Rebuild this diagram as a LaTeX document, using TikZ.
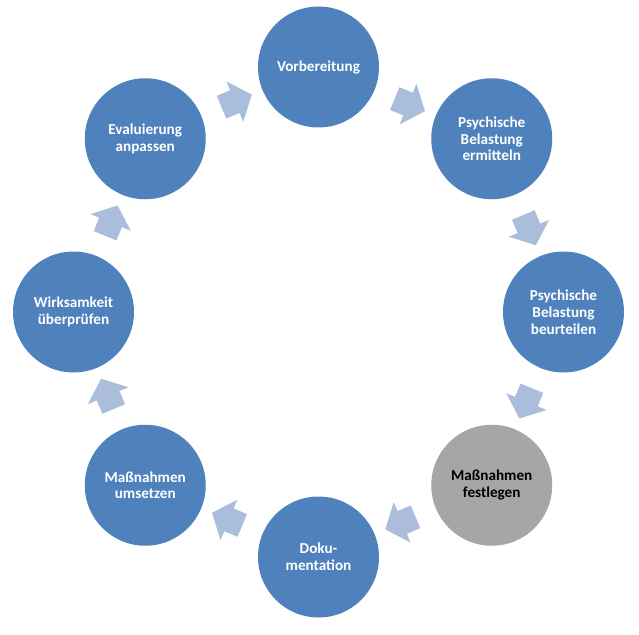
\documentclass[tikz,border=0pt]{standalone}
\usepackage{fontspec}
\setmainfont{Carlito}
\usetikzlibrary{calc}
\usetikzlibrary{shapes.arrows}
\definecolor{stageblue}{HTML}{4F81BD}
\definecolor{stagegray}{HTML}{A6A6A6}
\definecolor{turnblue}{HTML}{AABDDB}
\tikzset{
  stage/.style={circle, fill=stageblue, minimum size=3.025cm, inner sep=0pt, align=center, text=white, font=\bfseries\fontsize{10.8}{11.9}\selectfont},
  turn/.style={single arrow, fill=turnblue, minimum height=0.82cm, inner xsep=0pt, inner ysep=0.3cm, single arrow head extend=0.24cm, single arrow tip angle=100, sloped, allow upside down}
}

\begin{document}
\begin{tikzpicture}

\useasboundingbox (-7.9625,-8.05) rectangle (8.0125,7.8);

\node[stage] (vor) at (90:6.125) {Vorbereitung};
\node[stage] (erm) at (45:6.125) {Psychische\\Belastung\\ermitteln};
\node[stage] (beu) at (0:6.125) {Psychische\\Belastung\\beurteilen};
\node[stage, fill=stagegray, text=black] (fest) at (-45:6.125) {Maßnahmen\\festlegen};
\node[stage] (doku) at (-90:6.125) {Doku-\\mentation};
\node[stage] (ums) at (-135:6.125) {Maßnahmen\\umsetzen};
\node[stage] (wirk) at (180:6.125) {Wirksamkeit\\überprüfen};
\node[stage] (eval) at (135:6.125) {Evaluierung\\anpassen};

\path (vor) -- node[turn] {} (erm);
\path (erm) -- node[turn] {} (beu);
\path (beu) -- node[turn] {} (fest);
\path (fest) -- node[turn] {} (doku);
\path (doku) -- node[turn] {} (ums);
\path (ums) -- node[turn] {} (wirk);
\path (wirk) -- node[turn] {} (eval);
\path (eval) -- node[turn] {} (vor);

\end{tikzpicture}
\end{document}
